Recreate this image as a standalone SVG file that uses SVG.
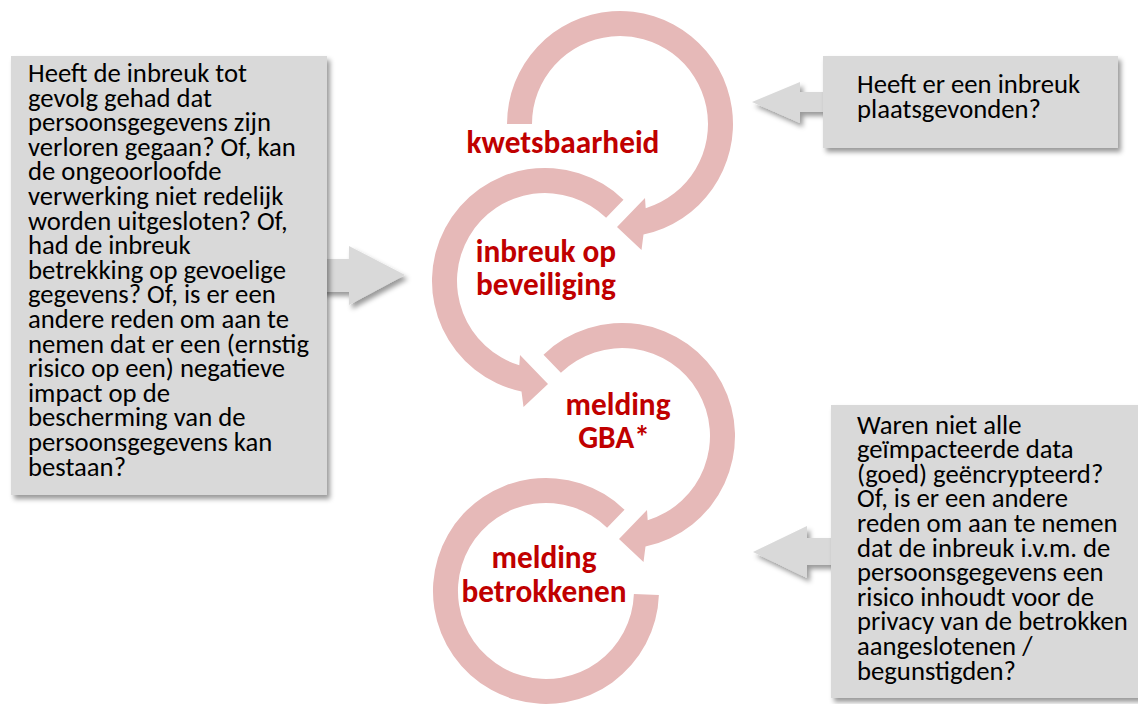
<svg xmlns="http://www.w3.org/2000/svg" width="1138" height="704" viewBox="0 0 1138 704">
<defs>
<filter id="sh" x="-10%" y="-10%" width="130%" height="130%">
<feDropShadow dx="3" dy="4" stdDeviation="2.5" flood-color="#000" flood-opacity="0.4"/>
</filter>
</defs>
<style>
.box{fill:#D9D9D9;filter:url(#sh)}
.arr{fill:#D9D9D9;filter:url(#sh)}
.ring{fill:#E6B9B8}
.q{font-family:Carlito,Lato,"Open Sans",sans-serif;font-size:26.7px;fill:#000}
.lab{font-family:Carlito,Lato,"Open Sans",sans-serif;font-size:31.3px;font-weight:bold;fill:#C00000;text-anchor:middle}
</style>
<rect width="1138" height="704" fill="#FFFFFF"/>
<g id="connectors">
<path class="arr" d="M320,259 L349,259 L349,246 L405,275 L349,305 L349,292 L320,292 Z"/>
<path class="arr" d="M830,92 L800,92 L800,82 L752,102 L800,123 L800,112 L830,112 Z"/>
<path class="arr" d="M838,538 L807,538 L807,526 L753,552 L807,578 L807,565 L838,565 Z"/>
</g>
<g id="box-left">
<rect class="box" x="11" y="56" width="316" height="439"/>
<text class="q">
<tspan x="28" y="82">Heeft de inbreuk tot</tspan>
<tspan x="28" y="106.6">gevolg gehad dat</tspan>
<tspan x="28" y="131.2">persoonsgegevens zijn</tspan>
<tspan x="28" y="155.8">verloren gegaan? Of, kan</tspan>
<tspan x="28" y="180.4">de ongeoorloofde</tspan>
<tspan x="28" y="205">verwerking niet redelijk</tspan>
<tspan x="28" y="229.6">worden uitgesloten? Of,</tspan>
<tspan x="28" y="254.2">had de inbreuk</tspan>
<tspan x="28" y="278.8">betrekking op gevoelige</tspan>
<tspan x="28" y="303.4">gegevens? Of, is er een</tspan>
<tspan x="28" y="328">andere reden om aan te</tspan>
<tspan x="28" y="352.6">nemen dat er een (ernstig</tspan>
<tspan x="28" y="377.2">risico op een) negatieve</tspan>
<tspan x="28" y="401.8">impact op de</tspan>
<tspan x="28" y="426.4">bescherming van de</tspan>
<tspan x="28" y="451">persoonsgegevens kan</tspan>
<tspan x="28" y="475.6">bestaan?</tspan>
</text>
</g>
<g id="box-top-right">
<rect class="box" x="823" y="56" width="295" height="92"/>
<text class="q">
<tspan x="857" y="93">Heeft er een inbreuk</tspan>
<tspan x="857" y="117.6">plaatsgevonden?</tspan>
</text>
</g>
<g id="box-bottom-right">
<rect class="box" x="831" y="405" width="312" height="293"/>
<text class="q">
<tspan x="857" y="433.5">Waren niet alle</tspan>
<tspan x="857" y="458.1">geïmpacteerde data</tspan>
<tspan x="857" y="482.7">(goed) geëncrypteerd?</tspan>
<tspan x="857" y="507.3">Of, is er een andere</tspan>
<tspan x="857" y="531.9">reden om aan te nemen</tspan>
<tspan x="857" y="556.5">dat de inbreuk i.v.m. de</tspan>
<tspan x="857" y="581.1">persoonsgegevens een</tspan>
<tspan x="857" y="605.7">risico inhoudt voor de</tspan>
<tspan x="857" y="630.3">privacy van de betrokken</tspan>
<tspan x="857" y="654.9">aangeslotenen /</tspan>
<tspan x="857" y="679.5">begunstigden?</tspan>
</text>
</g>
<g id="step-kwetsbaarheid">
<path class="ring" d="M507,124 A113,113 0 1 1 643.5,234.5 L641.5,250 L617,227 L645,198 L645.7,208.2 A88,88 0 1 0 532,124 Z"/>
<text class="lab" x="563" y="153">kwetsbaarheid</text>
</g>
<g id="step-inbreuk">
<path class="ring" d="M623.5,199.7 A113,113 0 1 0 521.5,391.5 L523.5,407 L548,384 L520,355 L519.3,365.2 A88,88 0 1 1 606.1,217.7 Z"/>
<text class="lab"><tspan x="546" y="262">inbreuk op</tspan><tspan x="546" y="295">beveiliging</tspan></text>
</g>
<g id="step-melding-gba">
<path class="ring" d="M543.5,354.7 A113,113 0 1 1 645.5,546.5 L643.5,562 L619,539 L647,510 L647.7,520.2 A88,88 0 1 0 560.9,372.7 Z"/>
<text class="lab"><tspan x="618" y="415">melding</tspan><tspan x="614" y="448">GBA*</tspan></text>
</g>
<g id="step-melding-betrokkenen">
<path class="ring" d="M624.5,509.7 A113,113 0 1 0 658.9,594.9 L633.9,594.1 A88,88 0 1 1 607.1,527.7 Z"/>
<text class="lab"><tspan x="544" y="568">melding</tspan><tspan x="544" y="601.5">betrokkenen</tspan></text>
</g>
</svg>
